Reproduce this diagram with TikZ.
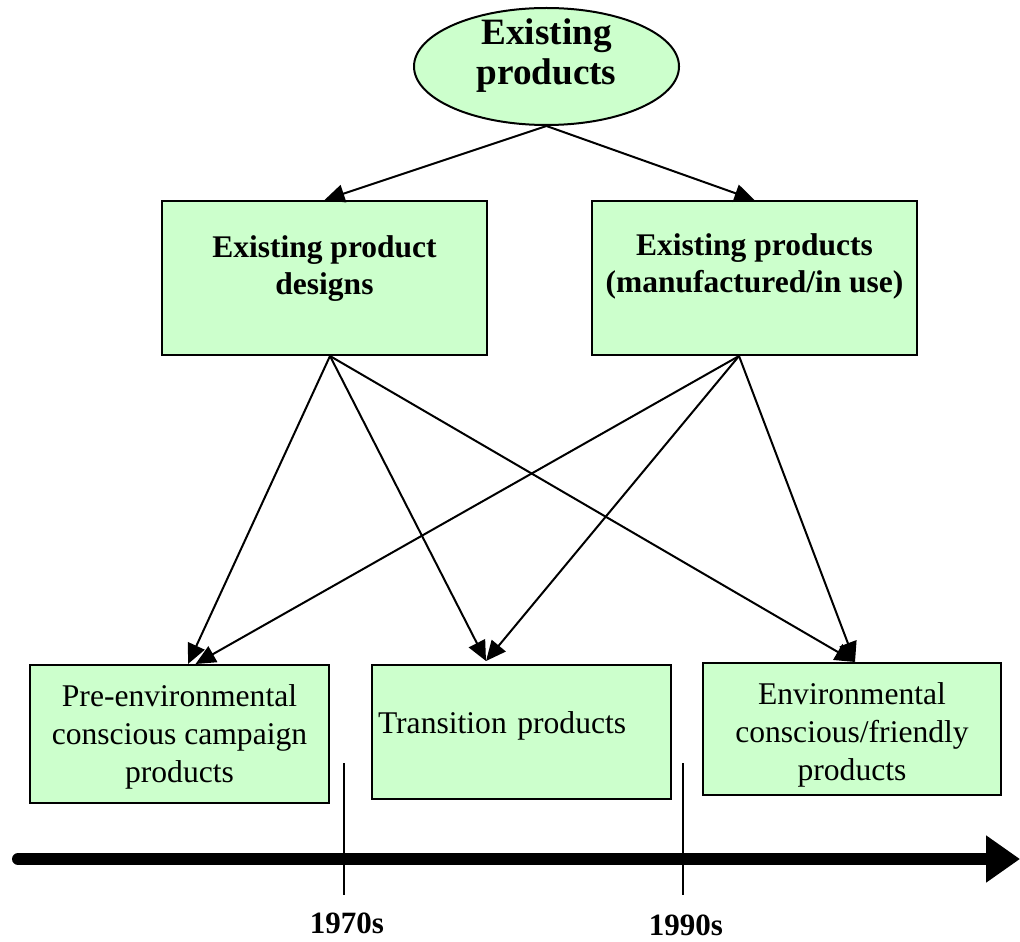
\documentclass[tikz,border=0pt]{standalone}
\usepackage{fontspec}
\setmainfont{Liberation Serif}
\usepackage{tikz}
\usetikzlibrary{arrows.meta,shapes.geometric,calc}
\definecolor{boxgreen}{HTML}{CCFFCC}
\newcommand{\clrbox}{boxgreen}
\newcommand{\linew}{1pt}
\newcommand{\topfont}{\fontsize{18.6}{20}\selectfont\bfseries}
\newcommand{\midfont}{\fontsize{15.75}{18.5}\selectfont\bfseries}
\newcommand{\lowfont}{\fontsize{15.8}{19}\selectfont}
\newcommand{\lowpad}[1]{\rule[-#1]{0pt}{0pt}}
\newcommand{\toppad}[1]{\rule{0pt}{#1}}
\tikzset{
    prodbox/.style={draw=black,line width=\linew,fill=\clrbox,inner sep=3pt,align=center},
    link/.style={line width=\linew,-{Triangle[length=10pt,width=9pt]}},
}

\begin{document}
\begin{tikzpicture}[x=0.5pt,y=-0.5pt]
    \useasboundingbox (0,0) rectangle (1020,941);

%%%%        Boxes
%top
    \node[prodbox,ellipse,inner sep=0pt,minimum width=132.5pt,minimum height=58.5pt] (ep) at (546.5,66.5) {};
    \node[align=center,inner sep=0pt,font=\topfont] (ept) at ([yshift=5.5pt]ep.center) {Existing\\products};
%layer1
    \node[prodbox,minimum width=162.5pt,minimum height=77pt,font=\midfont] (epd) at (324.5,278) {Existing product\\designs\lowpad{13.4pt}};
    \node[prodbox,minimum width=162.5pt,minimum height=77pt,font=\midfont] (epm) at (754.5,278) {Existing products\\(manufactured/in use)\lowpad{15.2pt}};
%layer2
    \node[prodbox,minimum width=149.5pt,minimum height=69pt,font=\lowfont] (pre) at (179.5,734) {\toppad{13.5pt}Pre-environmental\\conscious campaign\\products};
    \node[prodbox,minimum width=149.5pt,minimum height=67pt,text width=143.5pt,align=left,font=\lowfont] (trans) at (521.5,732) {Transition products\lowpad{9.4pt}};
    \node[prodbox,minimum width=149pt,minimum height=66pt,font=\lowfont] (env) at (852,729) {\toppad{16.8pt}Environmental\\conscious/friendly\\products};

%%%%        Edges
    \draw[link] (ep.south) -- (epd.north);
    \draw[link] (ep.south) -- (epm.north);
    \coordinate (sepd) at ([xshift=2.75pt]epd.south);
    \coordinate (sepm) at ([xshift=-7.75pt]epm.south);
    \draw[link] (sepd) -- ([xshift=4.25pt]pre.north);
    \draw[link] (sepm) -- ([xshift=8pt]pre.north);
    \foreach\v in {sepd,sepm}
    {
        \draw[link] (\v) -- ([xshift=-17.75pt,yshift=1.5pt]trans.north);
        \draw[link] (\v) -- ([xshift=1.5pt]env.north);
    }

%%%%        Timeline
    \coordinate (tl0) at (18,859);
    \coordinate (tl1) at (1020,859);
    \draw[line width=6pt,line cap=round,-{Triangle[length=17pt,width=22.5pt]}] (tl0) -- (tl1);
    \foreach\x/\d in {344/70,683/90}
    {
        \coordinate (t\d a) at (\x,763);
        \coordinate (t\d b) at (\x,895);
        \draw[line width=0.75pt] (t\d a) -- (t\d b);
    }

%%%%        Labels
    \node[anchor=base,font=\fontsize{15.5}{18}\selectfont\bfseries] (y70) at (347,933) {1970s};
    \node[anchor=base,font=\fontsize{15.5}{18}\selectfont\bfseries] (y90) at (686,935) {1990s};
\end{tikzpicture}
\end{document}
